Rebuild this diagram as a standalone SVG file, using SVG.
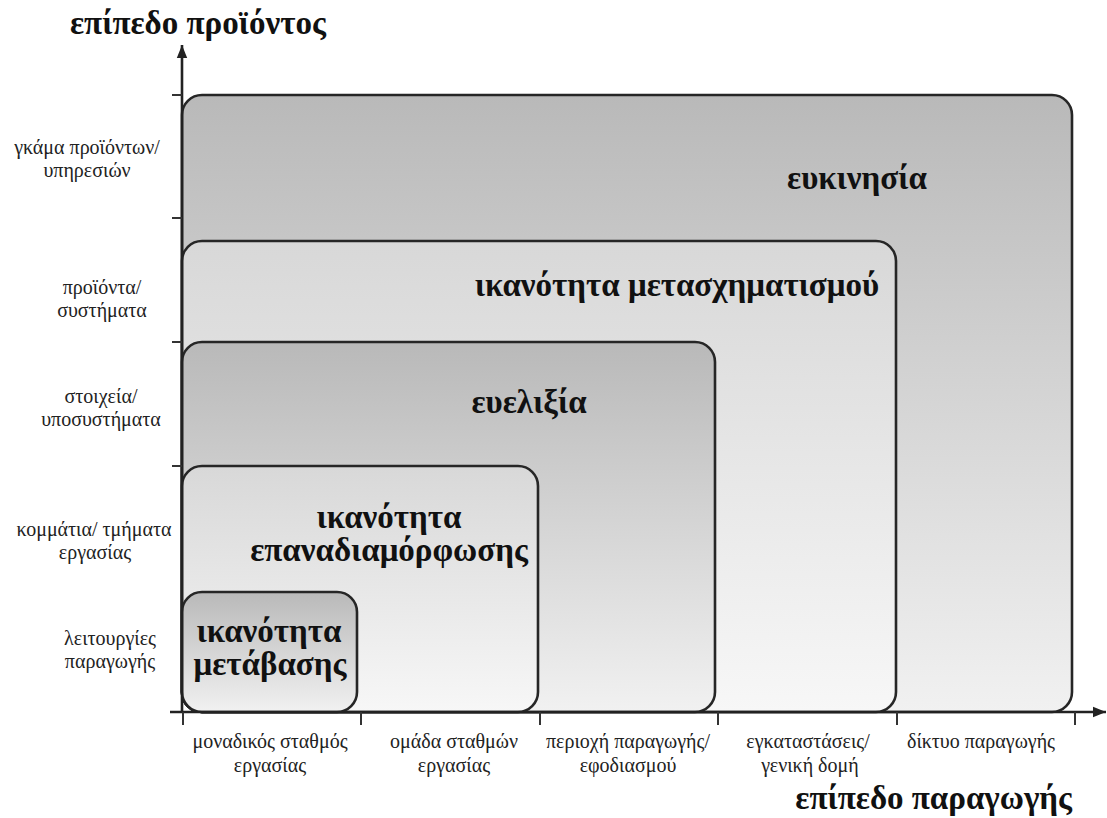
<svg xmlns="http://www.w3.org/2000/svg" width="1107" height="818" viewBox="0 0 1107 818">
  <style>
    .box { stroke: #262626; stroke-width: 2.6; }
    .axis { stroke: #222; stroke-width: 2.6; fill: none; }
    .tick { stroke: #333; stroke-width: 2; }
    .lvl { font-family: "Liberation Serif", "DejaVu Serif", serif; font-weight: bold; font-size: 33px; fill: #111; text-anchor: middle; }
    .lab { font-family: "Liberation Serif", "DejaVu Serif", serif; font-size: 20px; fill: #222; text-anchor: middle; }
    .ttl { font-family: "Liberation Serif", "DejaVu Serif", serif; font-weight: bold; font-size: 33px; fill: #111; }
  </style>
  <defs>
    <linearGradient id="gDark" x1="0" y1="0" x2="0" y2="1">
      <stop offset="0" stop-color="#b9b9b9"/>
      <stop offset="1" stop-color="#f1f1f1"/>
    </linearGradient>
    <linearGradient id="gLight" x1="0" y1="0" x2="0" y2="1">
      <stop offset="0" stop-color="#d8d8d8"/>
      <stop offset="1" stop-color="#f7f7f7"/>
    </linearGradient>
    <marker id="arrow" viewBox="0 0 10 10" refX="10" refY="5" markerWidth="5" markerHeight="5" markerUnits="strokeWidth" orient="auto">
      <path d="M0,1 L10,5 L0,9 Z" fill="#222"/>
    </marker>
  </defs>

  <rect width="1107" height="818" fill="#ffffff"/>

  <!-- nested capability regions, outermost first -->
  <g id="agility">
    <rect class="box" x="182" y="95" width="890" height="617" rx="20" fill="url(#gDark)"/>
    <text class="lvl" x="857" y="189">ευκινησία</text>
  </g>
  <g id="transformability">
    <rect class="box" x="182" y="241" width="714" height="471" rx="20" fill="url(#gLight)"/>
    <text class="lvl" x="677" y="296">ικανότητα μετασχηματισμού</text>
  </g>
  <g id="flexibility">
    <rect class="box" x="182" y="342" width="533" height="370" rx="20" fill="url(#gDark)"/>
    <text class="lvl" x="529" y="413">ευελιξία</text>
  </g>
  <g id="reconfigurability">
    <rect class="box" x="182" y="466" width="356" height="246" rx="20" fill="url(#gLight)"/>
    <text class="lvl" x="389" y="528">ικανότητα</text>
    <text class="lvl" x="389" y="561">επαναδιαμόρφωσης</text>
  </g>
  <g id="changeover">
    <rect class="box" x="182" y="592" width="175" height="120" rx="20" fill="url(#gDark)"/>
    <text class="lvl" x="269" y="642">ικανότητα</text>
    <text class="lvl" x="270" y="675">μετάβασης</text>
  </g>

  <!-- axes with ticks -->
  <g id="axes">
    <line class="axis" x1="182" y1="712" x2="182" y2="45" marker-end="url(#arrow)"/>
    <line class="axis" x1="170" y1="712" x2="1106" y2="712" marker-end="url(#arrow)"/>
    <line class="tick" x1="172" y1="95" x2="182" y2="95"/>
    <line class="tick" x1="172" y1="218" x2="182" y2="218"/>
    <line class="tick" x1="172" y1="342" x2="182" y2="342"/>
    <line class="tick" x1="172" y1="466" x2="182" y2="466"/>
    <line class="tick" x1="183" y1="712" x2="183" y2="725"/>
    <line class="tick" x1="361" y1="712" x2="361" y2="725"/>
    <line class="tick" x1="540" y1="712" x2="540" y2="725"/>
    <line class="tick" x1="718" y1="712" x2="718" y2="725"/>
    <line class="tick" x1="897" y1="712" x2="897" y2="725"/>
    <line class="tick" x1="1075" y1="712" x2="1075" y2="725"/>
  </g>

  <!-- axis titles -->
  <text class="ttl" x="70" y="34">επίπεδο προϊόντος</text>
  <text class="ttl" x="1072" y="809" text-anchor="end">επίπεδο παραγωγής</text>

  <!-- product level labels -->
  <g id="y-labels">
    <text class="lab" x="87" y="154">γκάμα προϊόντων/</text>
    <text class="lab" x="87" y="177">υπηρεσιών</text>
    <text class="lab" x="102" y="294">προϊόντα/</text>
    <text class="lab" x="102" y="317">συστήματα</text>
    <text class="lab" x="101" y="403">στοιχεία/</text>
    <text class="lab" x="101" y="426">υποσυστήματα</text>
    <text class="lab" x="94" y="536">κομμάτια/ τμήματα</text>
    <text class="lab" x="95" y="559">εργασίας</text>
    <text class="lab" x="110" y="645">λειτουργίες</text>
    <text class="lab" x="110" y="668">παραγωγής</text>
  </g>

  <!-- production level labels -->
  <g id="x-labels">
    <text class="lab" x="270" y="748">μοναδικός σταθμός</text>
    <text class="lab" x="270" y="772">εργασίας</text>
    <text class="lab" x="454" y="748">ομάδα σταθμών</text>
    <text class="lab" x="454" y="772">εργασίας</text>
    <text class="lab" x="628" y="748">περιοχή παραγωγής/</text>
    <text class="lab" x="628" y="772">εφοδιασμού</text>
    <text class="lab" x="808" y="748">εγκαταστάσεις/</text>
    <text class="lab" x="810" y="772">γενική δομή</text>
    <text class="lab" x="981" y="748">δίκτυο παραγωγής</text>
  </g>
</svg>
